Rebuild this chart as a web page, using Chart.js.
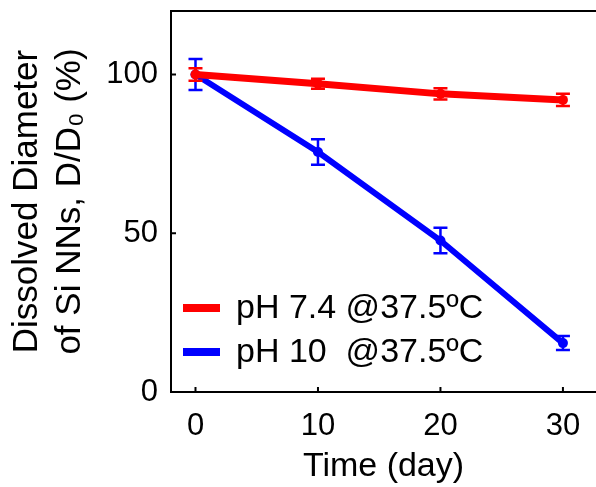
<!DOCTYPE html>
<html><head><meta charset="utf-8">
<script src="https://cdn.jsdelivr.net/npm/chart.js@4/dist/chart.umd.min.js"></script>
<style>html,body{margin:0;padding:0;background:#fff}#wrap{width:596px;height:487px;position:relative}</style>
</head><body><div id="wrap"><canvas id="c"></canvas></div>
<script>
const days = [0, 10, 20, 30];
const ph74 = [100, 97.1, 93.9, 92.0];
const ph74Err = [2.0, 1.6, 1.8, 1.9];
const ph10 = [100, 75.6, 47.7, 15.4];
const ph10Err = [4.9, 4.0, 4.0, 2.2];
const xTicks = [0, 10, 20, 30];
const yTicks = [0, 50, 100];
const labels = ['pH 7.4 @37.5ºC', 'pH 10  @37.5ºC'];
const colors = ['#ff0000', '#0000ff'];
const FONT = "'Liberation Sans', Arial, sans-serif";

const errs = [ph74Err, ph10Err];

const frame = {
  id: 'frame',
  afterDatasetDraw(chart, args) {
    const i = args.index, ctx = chart.ctx;
    const meta = chart.getDatasetMeta(i);
    const ys = chart.scales.y;
    const d = chart.data.datasets[i].data;
    ctx.save();
    ctx.strokeStyle = colors[i];
    ctx.lineWidth = 2.5;
    meta.data.forEach((pt, k) => {
      const v = d[k].y, e = errs[i][k];
      const y1 = ys.getPixelForValue(v + e), y2 = ys.getPixelForValue(v - e);
      const x = pt.x, w = 7;
      ctx.beginPath();
      ctx.moveTo(x, y1); ctx.lineTo(x, y2);
      ctx.moveTo(x - w, y1); ctx.lineTo(x + w, y1);
      ctx.moveTo(x - w, y2); ctx.lineTo(x + w, y2);
      ctx.stroke();
    });
    ctx.restore();
  },
  afterDraw(chart) {
    const ctx = chart.ctx, a = chart.chartArea;
    const xs = chart.scales.x, ys = chart.scales.y;
    ctx.save();
    ctx.strokeStyle = '#000';
    ctx.lineWidth = 2;
    ctx.beginPath();
    ctx.moveTo(a.left, a.top); ctx.lineTo(a.right, a.top);
    xTicks.forEach(t => { const x = xs.getPixelForValue(t); ctx.moveTo(x, a.bottom); ctx.lineTo(x, a.bottom - 5); });
    yTicks.forEach(t => { const y = ys.getPixelForValue(t); ctx.moveTo(a.left, y); ctx.lineTo(a.left + 5, y); });
    ctx.stroke();
    // legend
    ctx.font = '34px ' + FONT;
    ctx.textBaseline = 'middle';
    ctx.fillStyle = '#000';
    chart.data.datasets.forEach((ds, i) => {
      const y = a.bottom - 84 + i * 44;
      ctx.strokeStyle = ds.borderColor;
      ctx.lineWidth = 8;
      ctx.beginPath(); ctx.moveTo(a.left + 12, y); ctx.lineTo(a.left + 49, y); ctx.stroke();
      ctx.fillText(ds.label, a.left + 65, y + 1);
    });
    ctx.restore();
  }
};

new Chart(document.getElementById('c'), {
  type: 'line',
  data: {
    datasets: [
      { label: labels[0], data: days.map((d, i) => ({x: d, y: ph74[i]})), borderColor: colors[0], backgroundColor: colors[0], borderWidth: 7, pointRadius: 5, pointBorderWidth: 0 },
      { label: labels[1], data: days.map((d, i) => ({x: d, y: ph10[i]})), borderColor: colors[1], backgroundColor: colors[1], borderWidth: 6, pointRadius: 5, pointBorderWidth: 0 }
    ]
  },
  options: {
    responsive: true, maintainAspectRatio: false, animation: false,
    layout: { autoPadding: false, padding: { top: 11, right: 0, left: 0, bottom: 0 } },
    plugins: { legend: { display: false }, tooltip: { enabled: false } },
    scales: {
      x: {
        type: 'linear', min: -2, max: 32.7,
        afterBuildTicks: s => { s.ticks = xTicks.map(v => ({value: v})); },
        afterFit: s => { s.height = 95; s.paddingLeft = 0; s.paddingRight = 0; },
        grid: { display: false, drawTicks: false },
        border: { display: true, color: '#000', width: 2 },
        ticks: { color: '#000', font: { family: FONT, size: 31 }, padding: 16, maxRotation: 0 },
        title: { display: true, text: 'Time (day)', color: '#000', font: { family: FONT, size: 34 }, padding: { top: 2, bottom: 0 } }
      },
      y: {
        min: 0, max: 120,
        afterBuildTicks: s => { s.ticks = yTicks.map(v => ({value: v})); },
        afterFit: s => { s.width = 171; s.paddingTop = 0; s.paddingBottom = 0; },
        grid: { display: false, drawTicks: false },
        border: { display: true, color: '#000', width: 2 },
        ticks: { color: '#000', font: { family: FONT, size: 31 }, padding: 13 },
        title: { display: true, text: ['Dissolved Diameter', 'of Si NNs, D/D\u2080 (%)'], color: '#000', font: { family: FONT, size: 35, lineHeight: 1.25 }, padding: { top: 5, bottom: 0 } }
      }
    }
  },
  plugins: [frame]
});
</script></body></html>
